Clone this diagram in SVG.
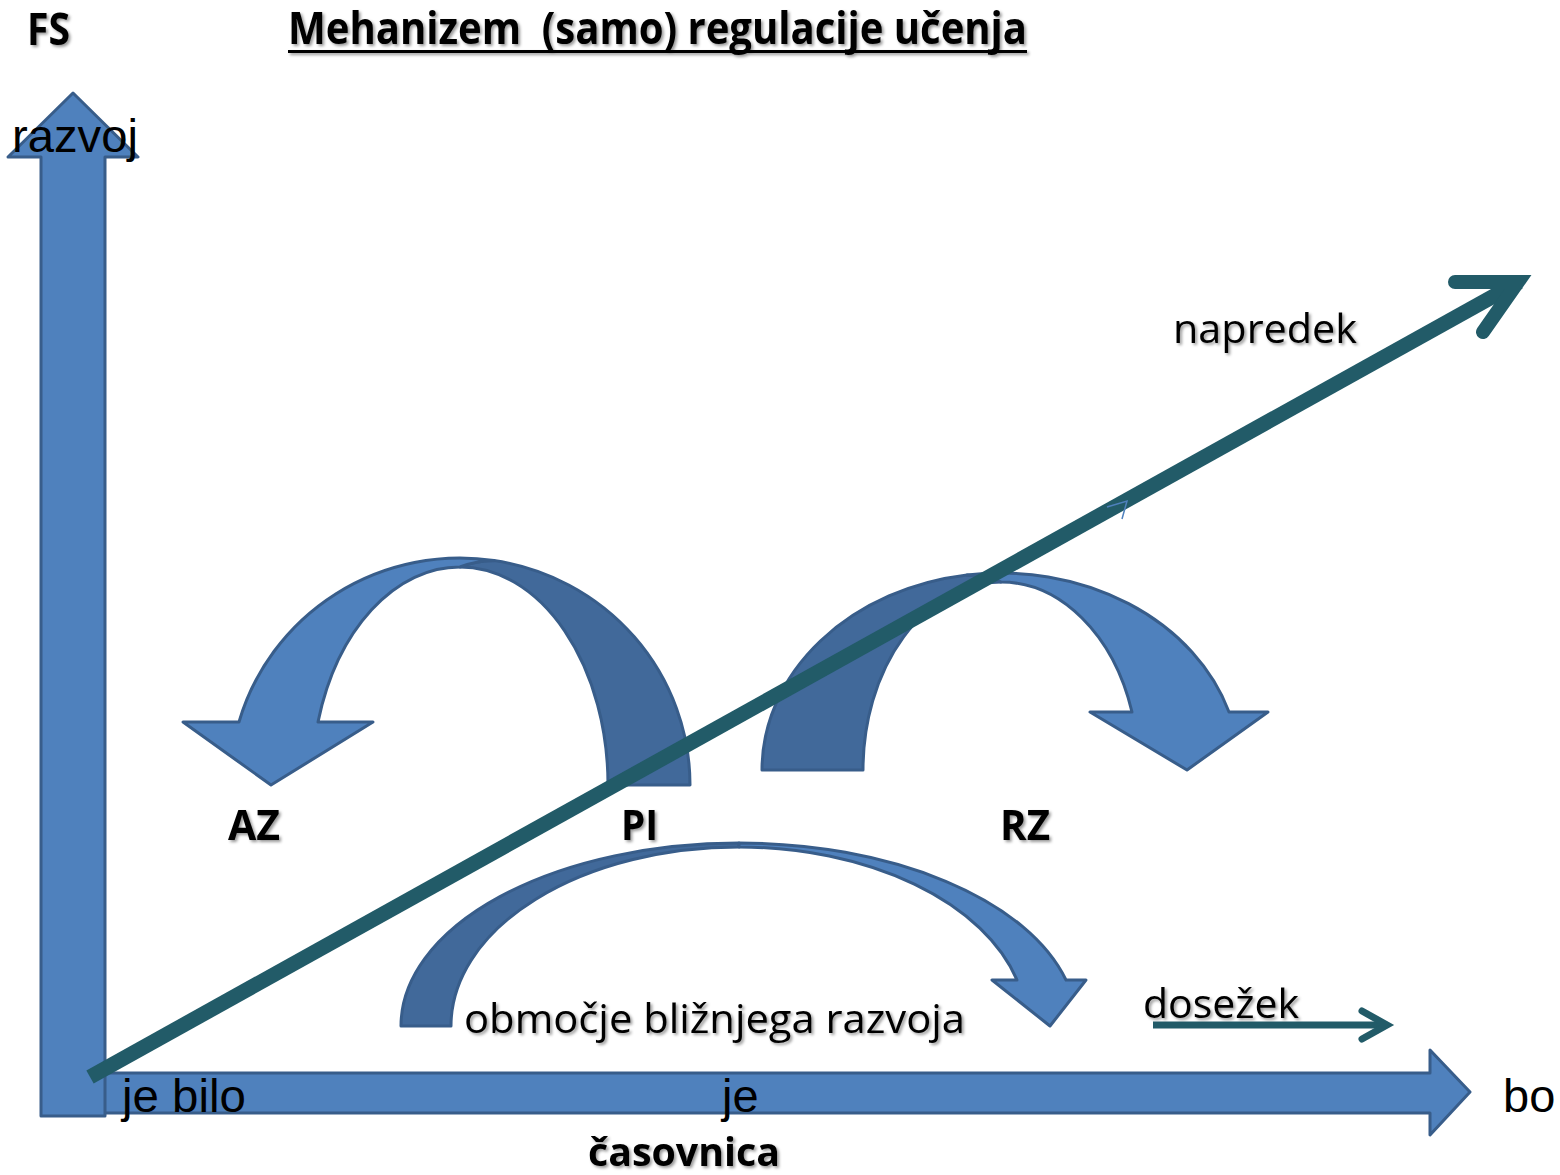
<svg xmlns="http://www.w3.org/2000/svg" width="1560" height="1175" viewBox="0 0 1560 1175">
<defs>
<filter id="sh" x="-10%" y="-20%" width="120%" height="150%">
<feDropShadow dx="2" dy="2" stdDeviation="1.5" flood-color="#000" flood-opacity="0.4"/>
</filter>
</defs>
<style>
.blk{fill:#4F81BD;stroke:#385D8A;stroke-width:3;stroke-linejoin:round}
.dk{fill:#41699A;stroke:#385D8A;stroke-width:3;stroke-linejoin:round}
.teal{fill:none;stroke:#225B68;stroke-linecap:butt}
.chev{fill:none;stroke:#225B68;stroke-linecap:round;stroke-linejoin:miter;stroke-miterlimit:10}
.cb{font-family:"Open Sans","Noto Sans",sans-serif;font-weight:bold;fill:#000;filter:url(#sh)}
.cr{font-family:"Open Sans","Noto Sans",sans-serif;fill:#000;filter:url(#sh)}
.ar{font-family:"Liberation Sans",Arial,sans-serif;fill:#000;font-size:47px}
</style>
<rect width="1560" height="1175" fill="#fff"/>

<g id="axis-time">
<path class="blk" d="M103,1073 L1430,1073 L1430,1050 L1470,1092 L1430,1135 L1430,1113 L103,1113 Z"/>
</g>
<g id="axis-razvoj">
<path class="blk" d="M73,93 L138,157 L105,157 L105,1116 L41,1116 L41,157 L8,157 Z"/>
</g>

<g id="arc-AZ-PI">
<path class="dk" d="M494,560.5 A230 227 0 0 1 690,785 L608,785 A148 218 0 0 0 460,567 Q475,561 494,560.5 Z"/>
<path class="blk" d="M239,722 A230 227 0 0 1 494,560.5 Q475,561 460,567 A148 218 0 0 0 318,722 L373,722 L271,785 L183,722 Z"/>
</g>

<g id="arc-RZ">
<path class="dk" d="M762,770 A239 197 0 0 1 967,575 Q985,576 1001,582 A138 188 0 0 0 863,770 Z"/>
<path class="blk" d="M967,575 A239 197 0 0 1 1229,712 L1268,712 L1187,770 L1090,712 L1132,712 A138 188 0 0 0 1001,582 Q985,576 967,575 Z"/>
</g>

<g id="arc-obmocje">
<path class="dk" d="M401,1026 A338 183 0 0 1 739,843 L739,847 A288 179 0 0 0 451,1026 Z"/>
<path class="blk" d="M739,843 A338 183 0 0 1 1066,980 L1086,980 L1050,1026 L992,980 L1017,980 A288 179 0 0 0 739,847 Z"/>
</g>

<g id="connectors">
<line class="teal" x1="90" y1="1077" x2="1519" y2="282" stroke-width="15"/>
<polyline class="chev" points="1455,282 1518,282 1483,332" stroke-width="14"/>
<line class="teal" x1="1153" y1="1025" x2="1386" y2="1025" stroke-width="7"/>
<polyline class="chev" points="1362,1011 1387,1025 1362,1039" stroke-width="7"/>
<polyline points="1107,507 1127,501 1122,519" fill="none" stroke="#4F81BD" stroke-width="1.5"/>
</g>

<g id="labels">
<text class="cb" x="27" y="45" font-size="44" textLength="43" lengthAdjust="spacingAndGlyphs">FS</text>
<g id="title" filter="url(#sh)">
<text x="288" y="44" font-size="44" font-family="Open Sans, Noto Sans, sans-serif" font-weight="bold" textLength="739" lengthAdjust="spacingAndGlyphs" xml:space="preserve">Mehanizem  (samo) regulacije učenja</text>
<rect x="288" y="50" width="739" height="3" fill="#000"/>
</g>
<text class="ar" x="12" y="152" textLength="126" lengthAdjust="spacingAndGlyphs">razvoj</text>
<text class="cb" x="228" y="840" font-size="42" textLength="52" lengthAdjust="spacingAndGlyphs">AZ</text>
<text class="cb" x="621" y="840" font-size="42" textLength="37" lengthAdjust="spacingAndGlyphs">PI</text>
<text class="cb" x="1000" y="840" font-size="42" textLength="50" lengthAdjust="spacingAndGlyphs">RZ</text>
<text class="cr" x="1173" y="343" font-size="40" textLength="184" lengthAdjust="spacingAndGlyphs">napredek</text>
<text class="cr" x="464" y="1033" font-size="40" textLength="501" lengthAdjust="spacingAndGlyphs">območje bližnjega razvoja</text>
<text class="cr" x="1143" y="1018" font-size="40" textLength="156" lengthAdjust="spacingAndGlyphs">dosežek</text>
<text class="ar" x="122" y="1112" textLength="124" lengthAdjust="spacingAndGlyphs">je bilo</text>
<text class="ar" x="722" y="1112">je</text>
<text class="ar" x="1503" y="1112">bo</text>
<text class="cb" x="588" y="1166" font-size="40" textLength="192" lengthAdjust="spacingAndGlyphs">časovnica</text>
</g>
</svg>
